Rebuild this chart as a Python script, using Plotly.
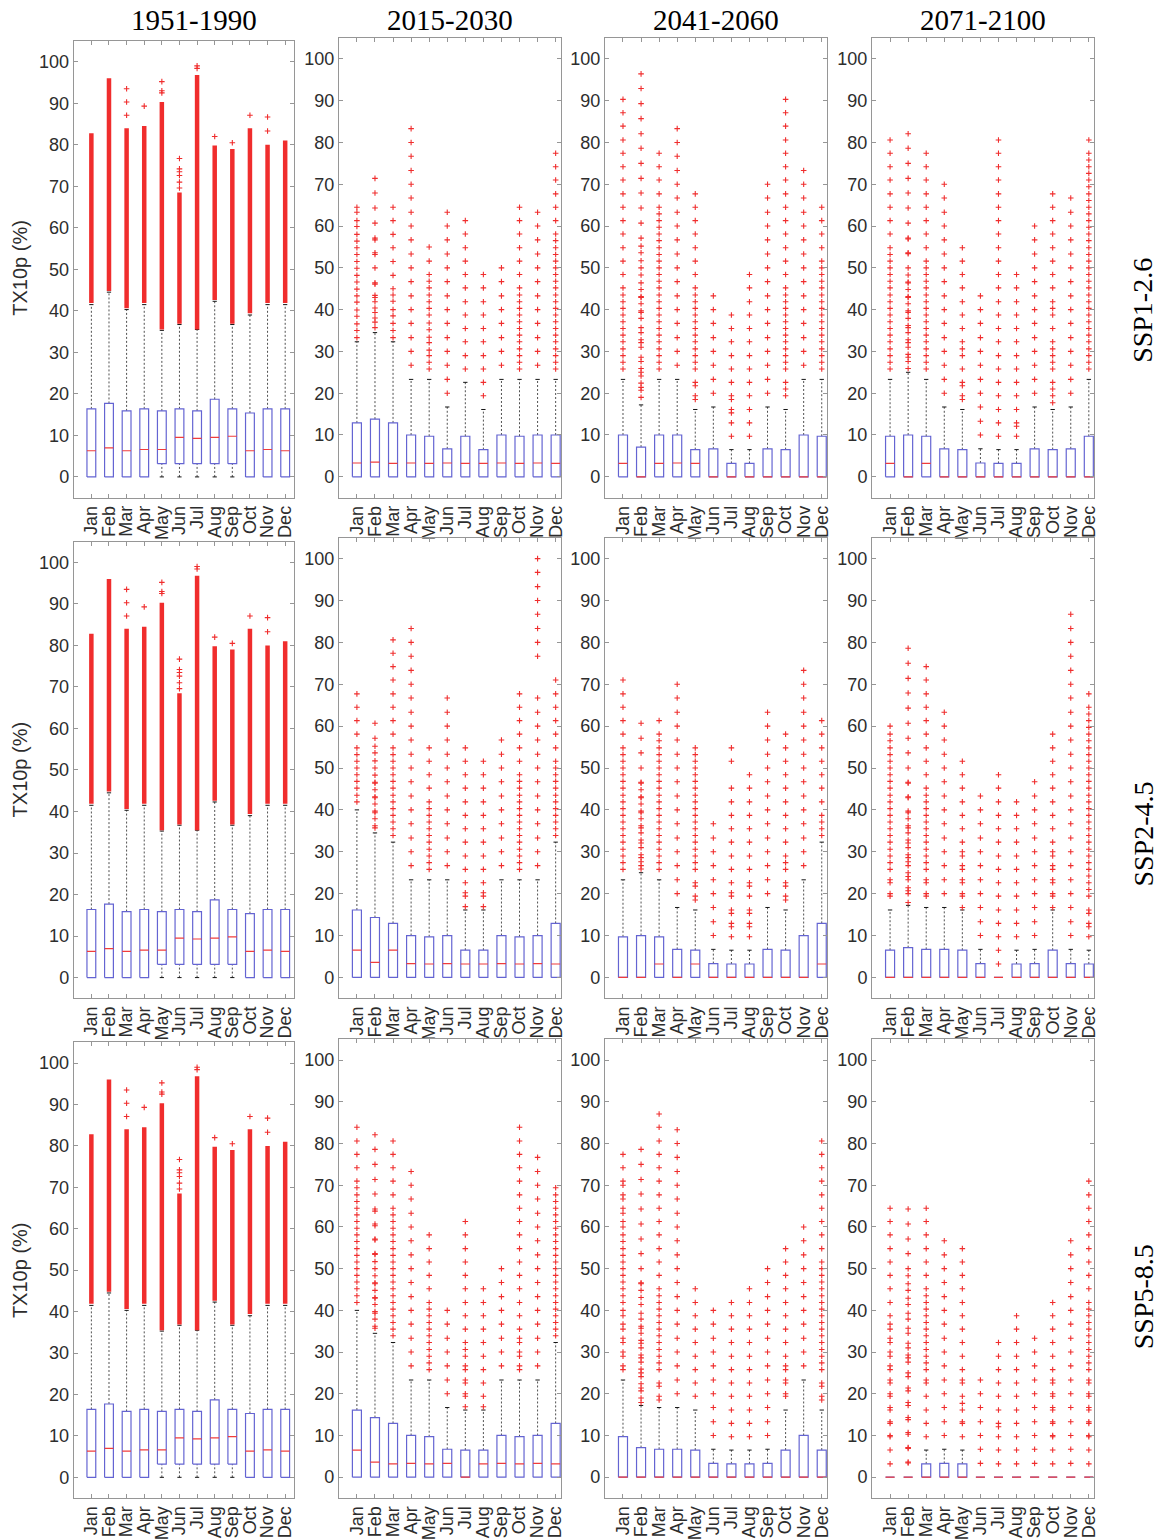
import plotly.graph_objects as go

W, H = 1168, 1540

MONTHS = ["Jan", "Feb", "Mar", "Apr", "May", "Jun", "Jul", "Aug", "Sep", "Oct", "Nov", "Dec"]
PERIODS = ["1951-1990", "2015-2030", "2041-2060", "2071-2100"]
SCENARIOS = ["SSP1-2.6", "SSP2-4.5", "SSP5-8.5"]
Y_TICKS = [0, 10, 20, 30, 40, 50, 60, 70, 80, 90, 100]
Y_LABEL = "TX10p (%)"

# ---------------- 1951-1990 (historical, repeated in every row) ----------------
hist_q1 = [0, 0, 0, 0, 3.2, 3.2, 3.2, 3.2, 3.2, 0, 0, 0]
hist_med = [6.3, 7.0, 6.3, 6.6, 6.6, 9.5, 9.3, 9.5, 9.8, 6.3, 6.6, 6.3]
hist_q3 = [16.4, 17.7, 15.9, 16.4, 15.9, 16.4, 15.9, 18.7, 16.4, 15.4, 16.4, 16.4]
hist_wlo = [0, 0, 0, 0, 0, 0, 0, 0, 0, 0, 0, 0]
hist_whi = [41.5, 44.5, 40.3, 41.5, 35.3, 36.7, 35.5, 42.3, 36.7, 39.0, 41.5, 41.5]
# densely packed outliers: lowest and highest value of each continuous run
hist_dense_lo = [41.9, 44.8, 40.6, 41.9, 35.5, 36.9, 35.5, 42.6, 36.9, 39.4, 41.9, 41.9]
hist_dense_hi = [82.8, 96.0, 84.0, 84.5, 90.3, 68.5, 96.8, 79.8, 79.0, 84.0, 80.0, 81.0]
hist_out = [[], [], [87.1, 90.3, 93.5], [89.3], [92.5, 93.0, 95.2],
            [69.6, 71.0, 72.6, 73.5, 74.2, 76.7], [98.4, 99.0], [82.0], [80.5],
            [87.1], [83.3, 86.7], []]

ZERO_Q1 = [0, 0, 0, 0, 0, 0, 0, 0, 0, 0, 0, 0]

# ---------------- SSP1-2.6 ----------------
s126_2015_med = [3.3, 3.5, 3.2, 3.3, 3.2, 3.3, 3.2, 3.2, 3.3, 3.2, 3.3, 3.2]
s126_2015_q3 = [12.9, 13.8, 12.9, 10.0, 9.7, 6.7, 9.7, 6.5, 10.0, 9.7, 10.0, 10.0]
s126_2015_whi = [32.3, 34.5, 32.3, 23.3, 23.3, 16.7, 22.6, 16.1, 23.3, 23.3, 23.3, 23.3]
s126_2015_out = [
    [33.3, 35.0, 36.6, 38.4, 39.9, 41.8, 43.3, 44.9, 46.6, 48.2, 49.9, 51.5, 53.2, 54.8, 56.4, 58.0, 59.9, 61.3, 63.3, 64.5],
    [35.7, 37.0, 38.0, 39.3, 40.4, 41.9, 42.9, 43.4, 46.1, 46.4, 50.0, 53.2, 53.6, 56.7, 57.1, 60.7, 64.3, 67.9, 71.4],
    [33.3, 35.0, 36.7, 38.5, 40.0, 42.0, 43.5, 45.0, 48.2, 51.5, 54.8, 58.0, 61.3, 64.5],
    [26.7, 30.0, 33.3, 36.7, 40.0, 43.3, 46.7, 50.0, 53.3, 56.7, 60.0, 63.3, 66.7, 70.0, 73.3, 76.7, 80.0, 83.3],
    [25.8, 27.4, 29.0, 30.3, 32.1, 33.4, 35.2, 36.8, 38.7, 40.3, 41.9, 43.5, 45.2, 46.8, 48.4, 51.6, 55.0],
    [20.0, 23.3, 26.7, 30.0, 33.3, 36.7, 40.0, 43.3, 46.7, 50.0, 53.3, 56.7, 60.0, 63.3],
    [25.8, 29.0, 32.3, 35.5, 38.7, 41.9, 45.2, 48.4, 51.6, 54.8, 58.1, 61.3],
    [19.4, 22.6, 25.8, 29.0, 32.3, 35.5, 38.7, 41.9, 45.2, 48.4],
    [26.7, 30.0, 33.3, 36.7, 40.0, 43.3, 46.7, 50.0],
    [25.8, 27.4, 29.0, 30.6, 32.3, 33.9, 35.5, 37.1, 38.7, 40.3, 41.9, 43.5, 45.2, 48.4, 51.6, 54.8, 58.1, 61.3, 64.5],
    [26.7, 30.0, 33.3, 36.7, 40.0, 43.3, 46.7, 50.0, 53.3, 56.7, 60.0, 63.3],
    [25.8, 27.4, 29.0, 30.6, 32.3, 33.9, 35.5, 37.1, 38.7, 40.3, 41.9, 43.5, 45.2, 46.8, 48.4, 50.0, 51.6, 53.2, 54.8, 56.5, 58.1, 61.3, 64.5, 67.7, 71.0, 74.2, 77.4],
]

s126_2041_med = [3.2, 0, 3.2, 3.3, 3.2, 0, 0, 0, 0, 0, 0, 0]
s126_2041_q3 = [10.0, 7.1, 10.0, 10.0, 6.5, 6.7, 3.2, 3.2, 6.7, 6.5, 10.0, 9.7]
s126_2041_whi = [23.3, 17.2, 23.3, 23.3, 16.1, 16.7, 6.5, 6.5, 16.7, 16.1, 23.3, 23.3]
s126_2041_out = [
    [25.8, 27.4, 29.0, 30.6, 32.3, 33.9, 35.5, 37.1, 38.7, 40.3, 41.9, 43.5, 45.2, 48.4, 51.6, 54.8, 58.1, 61.3, 64.5, 67.7, 71.0, 74.2, 77.4, 80.6, 83.9, 87.1, 90.3],
    [19.0, 20.7, 21.4, 22.4, 24.1, 25.0, 25.9, 27.6, 28.6, 31.0, 32.1, 32.8, 34.5, 35.7, 37.9, 39.3, 39.7, 41.4, 42.9, 43.1, 44.8, 46.4, 48.3, 50.0, 51.7, 53.6, 55.2, 57.1, 60.7, 64.3, 67.9, 71.4, 75.0, 78.6, 82.1, 85.7, 89.3, 92.9, 96.4],
    [25.8, 27.4, 29.0, 30.6, 32.3, 33.9, 35.5, 37.1, 38.7, 40.3, 41.9, 43.5, 45.2, 46.8, 48.4, 50.0, 51.6, 53.2, 54.8, 56.5, 58.1, 59.7, 61.3, 62.9, 64.5, 67.7, 71.0, 74.2, 77.4],
    [26.7, 30.0, 33.3, 36.7, 40.0, 43.3, 46.7, 50.0, 53.3, 56.7, 60.0, 63.3, 66.7, 70.0, 73.3, 76.7, 80.0, 83.3],
    [18.5, 19.4, 21.8, 22.6, 25.8, 27.4, 29.0, 30.6, 32.3, 33.9, 35.5, 37.1, 38.7, 40.3, 41.9, 43.5, 45.2, 48.4, 51.6, 54.8, 58.1, 61.3, 64.5, 67.7],
    [20.0, 23.3, 26.7, 30.0, 33.3, 36.7, 40.0, 43.3],
    [9.7, 12.9, 15.3, 16.1, 18.5, 19.4, 22.6, 25.8, 29.0, 32.3, 35.5, 38.7],
    [9.7, 12.9, 16.1, 19.4, 22.6, 25.8, 29.0, 32.3, 35.5, 38.7, 41.9, 45.2, 48.4],
    [20.0, 23.3, 26.7, 30.0, 33.3, 36.7, 40.0, 43.3, 46.7, 50.0, 53.3, 56.7, 60.0, 63.3, 66.7, 70.0],
    [19.4, 21.0, 22.6, 25.8, 27.4, 29.0, 30.6, 32.3, 33.9, 35.5, 37.1, 38.7, 40.3, 41.9, 43.5, 45.2, 48.4, 51.6, 54.8, 58.1, 61.3, 64.5, 67.7, 71.0, 74.2, 77.4, 80.6, 83.9, 87.1, 90.3],
    [26.7, 30.0, 33.3, 36.7, 40.0, 43.3, 46.7, 50.0, 53.3, 56.7, 60.0, 63.3, 66.7, 70.0, 73.3],
    [25.8, 27.4, 29.0, 30.6, 32.3, 33.9, 35.5, 37.1, 38.7, 40.3, 41.9, 43.5, 45.2, 46.8, 48.4, 50.0, 51.6, 54.8, 58.1, 61.3, 64.5],
]

s126_2071_med = [3.2, 0, 3.2, 0, 0, 0, 0, 0, 0, 0, 0, 0]
s126_2071_q3 = [9.7, 10.0, 9.7, 6.7, 6.5, 3.3, 3.2, 3.2, 6.7, 6.5, 6.7, 9.7]
s126_2071_whi = [23.3, 25.0, 23.3, 16.7, 16.1, 6.7, 6.5, 6.5, 16.7, 16.1, 16.7, 23.3]
s126_2071_out = [
    [25.8, 27.4, 29.0, 30.6, 32.3, 33.9, 35.5, 37.1, 38.7, 40.3, 41.9, 43.5, 45.2, 46.8, 48.4, 50.0, 51.6, 53.2, 54.8, 58.1, 61.3, 64.5, 67.7, 71.0, 74.2, 77.4, 80.6],
    [25.9, 27.6, 28.6, 29.3, 31.0, 32.1, 32.8, 34.5, 35.7, 36.2, 37.9, 39.3, 39.7, 41.4, 42.9, 43.1, 44.8, 46.4, 46.6, 48.3, 50.0, 53.4, 53.6, 56.9, 57.1, 60.7, 64.3, 67.9, 71.4, 75.0, 78.6, 82.1],
    [25.8, 27.4, 29.0, 30.6, 32.3, 33.9, 35.5, 37.1, 38.7, 40.3, 41.9, 43.5, 45.2, 46.8, 48.4, 50.0, 51.6, 54.8, 58.1, 61.3, 64.5, 67.7, 71.0, 74.2, 77.4],
    [20.0, 23.3, 26.7, 30.0, 33.3, 36.7, 40.0, 43.3, 46.7, 50.0, 53.3, 56.7, 60.0, 63.3, 66.7, 70.0],
    [18.5, 19.4, 21.8, 22.6, 25.8, 29.0, 30.6, 32.3, 35.5, 38.7, 41.9, 45.2, 48.4, 51.6, 54.8],
    [10.0, 13.3, 16.7, 20.0, 23.3, 26.7, 30.0, 33.3, 36.7, 40.0, 43.3],
    [9.7, 12.9, 16.1, 19.4, 22.6, 25.8, 29.0, 32.3, 35.5, 38.7, 41.9, 45.2, 48.4, 51.6, 54.8, 58.1, 61.3, 64.5, 67.7, 71.0, 74.2, 77.4, 80.6],
    [9.7, 12.1, 12.9, 16.1, 19.4, 22.6, 25.8, 29.0, 32.3, 35.5, 38.7, 41.9, 45.2, 48.4],
    [20.0, 23.3, 26.7, 30.0, 33.3, 36.7, 40.0, 43.3, 46.7, 50.0, 53.3, 56.7, 60.0],
    [17.7, 19.4, 21.0, 22.6, 25.8, 27.4, 29.0, 30.6, 32.3, 35.5, 38.7, 40.3, 41.9, 45.2, 48.4, 51.6, 54.8, 58.1, 61.3, 64.5, 67.7],
    [20.0, 23.3, 26.7, 30.0, 33.3, 36.7, 40.0, 43.3, 46.7, 50.0, 53.3, 56.7, 60.0, 63.3, 66.7],
    [25.8, 27.4, 29.0, 30.6, 32.3, 33.9, 35.5, 37.1, 38.7, 40.3, 41.9, 43.5, 45.2, 46.8, 48.4, 50.0, 51.6, 53.2, 54.8, 56.5, 58.1, 59.7, 61.3, 62.9, 64.5, 66.1, 67.7, 69.4, 71.0, 72.6, 74.2, 75.8, 77.4, 80.6],
]

# ---------------- SSP2-4.5 ----------------
s245_2015_med = [6.5, 3.6, 6.5, 3.3, 3.2, 3.3, 3.2, 3.2, 3.3, 3.2, 3.3, 3.2]
s245_2015_q3 = [16.1, 14.3, 12.9, 10.0, 9.7, 10.0, 6.5, 6.5, 10.0, 9.7, 10.0, 12.9]
s245_2015_whi = [40.0, 34.5, 32.3, 23.3, 23.3, 23.3, 16.1, 16.1, 23.3, 23.3, 23.3, 32.3]
s245_2015_out = [
    [41.9, 43.5, 45.2, 46.8, 48.4, 50.0, 51.6, 53.2, 54.8, 58.1, 61.3, 64.5, 67.7],
    [35.7, 36.2, 37.9, 39.3, 39.7, 41.4, 42.9, 43.1, 44.8, 46.4, 46.6, 48.3, 50.0, 51.7, 53.6, 55.2, 57.1, 60.7],
    [33.9, 35.5, 37.1, 38.7, 40.3, 41.9, 43.5, 45.2, 46.8, 48.4, 50.0, 51.6, 53.2, 54.8, 58.1, 61.3, 64.5, 67.7, 71.0, 74.2, 77.4, 80.6],
    [26.7, 30.0, 33.3, 36.7, 40.0, 43.3, 46.7, 50.0, 53.3, 56.7, 60.0, 63.3, 66.7, 70.0, 73.3, 76.7, 80.0, 83.3],
    [25.8, 27.4, 29.0, 30.6, 32.3, 33.9, 35.5, 37.1, 38.7, 40.3, 41.9, 45.2, 48.4, 51.6, 54.8],
    [26.7, 30.0, 33.3, 36.7, 40.0, 43.3, 46.7, 50.0, 53.3, 56.7, 60.0, 63.3, 66.7],
    [16.9, 19.4, 20.2, 22.6, 25.8, 29.0, 32.3, 35.5, 38.7, 41.9, 45.2, 48.4, 51.6, 54.8],
    [16.9, 19.4, 20.2, 22.6, 25.8, 29.0, 32.3, 35.5, 38.7, 41.9, 45.2, 48.4, 51.6],
    [26.7, 30.0, 33.3, 36.7, 40.0, 43.3, 46.7, 50.0, 53.3, 56.7],
    [25.8, 27.4, 29.0, 30.6, 32.3, 33.9, 35.5, 37.1, 38.7, 40.3, 41.9, 43.5, 45.2, 46.8, 48.4, 51.6, 54.8, 58.1, 61.3, 64.5, 67.7],
    [26.7, 30.0, 33.3, 36.7, 40.0, 43.3, 46.7, 50.0, 53.3, 56.7, 60.0, 63.3, 66.7, 76.7, 80.0, 83.3, 86.7, 90.0, 93.3, 96.7, 100.0],
    [33.9, 35.5, 37.1, 38.7, 40.3, 41.9, 43.5, 45.2, 46.8, 48.4, 50.0, 51.6, 54.8, 58.1, 61.3, 64.5, 67.7, 71.0],
]

s245_2041_med = [0, 0, 3.2, 0, 3.2, 0, 0, 0, 0, 0, 0, 3.2]
s245_2041_q3 = [9.7, 10.0, 9.7, 6.7, 6.5, 3.3, 3.2, 3.2, 6.7, 6.5, 10.0, 12.9]
s245_2041_whi = [23.3, 25.0, 23.3, 16.7, 16.1, 6.7, 6.5, 6.5, 16.7, 16.1, 23.3, 32.3]
s245_2041_out = [
    [25.8, 27.4, 29.0, 30.6, 32.3, 33.9, 35.5, 37.1, 38.7, 40.3, 41.9, 43.5, 45.2, 46.8, 48.4, 50.0, 51.6, 53.2, 54.8, 58.1, 61.3, 64.5, 67.7, 71.0],
    [25.9, 26.7, 27.6, 28.6, 29.3, 31.0, 32.1, 32.8, 34.5, 35.7, 36.2, 37.9, 39.3, 39.7, 41.4, 42.9, 43.1, 44.8, 46.4, 46.6, 50.0, 53.6, 57.1, 60.7],
    [25.8, 27.4, 29.0, 30.6, 32.3, 33.9, 35.5, 37.1, 38.7, 40.3, 41.9, 43.5, 45.2, 46.8, 48.4, 50.0, 51.6, 53.2, 54.8, 56.5, 58.1, 61.3],
    [20.0, 23.3, 26.7, 30.0, 33.3, 36.7, 40.0, 43.3, 46.7, 50.0, 53.3, 56.7, 60.0, 63.3, 66.7, 70.0],
    [18.5, 19.4, 21.8, 22.6, 25.8, 27.4, 29.0, 30.6, 32.3, 33.9, 35.5, 37.1, 38.7, 40.3, 41.9, 43.5, 45.2, 46.8, 48.4, 50.0, 51.6, 53.2, 54.8],
    [10.0, 13.3, 16.7, 20.0, 23.3, 26.7, 30.0, 33.3, 36.7],
    [9.7, 12.1, 12.9, 15.3, 16.1, 19.4, 20.2, 22.6, 25.8, 29.0, 32.3, 35.5, 38.7, 41.9, 45.2, 51.6, 54.8],
    [9.7, 12.1, 12.9, 15.3, 16.1, 19.4, 21.8, 22.6, 25.8, 29.0, 32.3, 35.5, 38.7, 41.9, 45.2, 48.4],
    [20.0, 23.3, 26.7, 30.0, 33.3, 36.7, 40.0, 43.3, 46.7, 50.0, 53.3, 56.7, 60.0, 63.3],
    [18.5, 19.4, 21.8, 22.6, 25.8, 27.4, 29.0, 32.3, 35.5, 38.7, 41.9, 45.2, 48.4, 51.6, 54.8, 58.1],
    [26.7, 30.0, 33.3, 36.7, 40.0, 43.3, 46.7, 50.0, 53.3, 56.7, 60.0, 63.3, 66.7, 70.0, 73.3],
    [33.9, 35.5, 37.1, 38.7, 41.9, 45.2, 48.4, 51.6, 54.8, 58.1, 61.3],
]

s245_2071_med = [0, 0, 0, 0, 0, 0, 0, 0, 0, 0, 0, 0]
s245_2071_q3 = [6.5, 7.1, 6.7, 6.7, 6.5, 3.3, 0, 3.2, 3.3, 6.5, 3.3, 3.2]
s245_2071_whi = [16.1, 17.2, 16.7, 16.7, 16.1, 6.7, 0, 6.5, 6.7, 16.1, 6.7, 6.5]
s245_2071_out = [
    [19.4, 20.0, 22.6, 23.3, 25.8, 27.4, 29.0, 30.6, 32.3, 33.9, 35.5, 37.1, 38.7, 40.3, 41.9, 43.5, 45.2, 46.8, 48.4, 50.0, 51.6, 53.2, 54.8, 56.5, 58.1, 60.0],
    [17.9, 20.0, 20.7, 21.4, 23.3, 24.1, 25.0, 26.7, 27.6, 28.6, 29.3, 31.0, 32.1, 32.8, 34.5, 35.7, 36.2, 37.9, 39.3, 39.7, 42.9, 43.1, 46.4, 46.6, 50.0, 53.6, 57.1, 60.7, 64.3, 67.9, 71.4, 75.0, 78.6],
    [19.4, 20.0, 22.6, 23.3, 25.8, 27.4, 29.0, 30.6, 32.3, 33.9, 35.5, 37.1, 38.7, 40.3, 41.9, 43.5, 45.2, 48.4, 51.6, 54.8, 58.1, 61.3, 64.5, 67.7, 71.0, 74.2],
    [20.0, 23.3, 26.7, 30.0, 33.3, 36.7, 40.0, 43.3, 46.7, 50.0, 53.3, 56.7, 60.0, 63.3],
    [16.7, 19.4, 20.0, 22.6, 23.3, 25.8, 26.7, 29.0, 30.0, 32.3, 35.5, 38.7, 41.9, 45.2, 48.4, 51.6],
    [10.0, 13.3, 16.7, 20.0, 23.3, 26.7, 30.0, 33.3, 36.7, 40.0, 43.3],
    [3.2, 6.5, 9.7, 12.9, 16.1, 19.4, 22.6, 25.8, 29.0, 32.3, 35.5, 38.7, 41.9, 45.2, 48.4],
    [9.7, 12.9, 16.1, 19.4, 22.6, 25.8, 29.0, 32.3, 35.5, 38.7, 41.9],
    [10.0, 13.3, 16.7, 20.0, 23.3, 26.7, 30.0, 33.3, 36.7, 40.0, 43.3, 46.7],
    [16.7, 19.4, 20.0, 22.6, 23.3, 25.8, 26.7, 29.0, 30.0, 32.3, 35.5, 38.7, 41.9, 45.2, 48.4, 51.6, 54.8, 58.1],
    [10.0, 13.3, 16.7, 20.0, 23.3, 26.7, 30.0, 33.3, 36.7, 40.0, 43.3, 46.7, 50.0, 53.3, 56.7, 60.0, 63.3, 66.7, 70.0, 73.3, 76.7, 80.0, 83.3, 86.7],
    [9.7, 12.1, 12.9, 15.3, 16.1, 19.4, 21.0, 22.6, 24.2, 25.8, 27.4, 29.0, 30.6, 32.3, 33.9, 35.5, 37.1, 38.7, 40.3, 41.9, 43.5, 45.2, 46.8, 48.4, 50.0, 51.6, 53.2, 54.8, 56.5, 58.1, 59.7, 61.3, 62.9, 64.5, 67.7],
]

# ---------------- SSP5-8.5 ----------------
s585_2015_med = [6.5, 3.6, 3.2, 3.3, 3.2, 3.3, 0, 3.2, 3.3, 3.2, 3.3, 3.2]
s585_2015_q3 = [16.1, 14.3, 12.9, 10.0, 9.7, 6.7, 6.5, 6.5, 10.0, 9.7, 10.0, 12.9]
s585_2015_whi = [40.0, 34.5, 32.3, 23.3, 23.3, 16.7, 16.1, 16.1, 23.3, 23.3, 23.3, 32.3]
s585_2015_out = [
    [41.9, 43.5, 45.2, 46.8, 48.4, 50.0, 51.6, 53.2, 54.8, 56.5, 58.1, 59.7, 61.3, 62.9, 64.5, 66.1, 67.7, 69.4, 71.0, 74.2, 77.4, 80.6, 83.9],
    [35.7, 36.2, 37.9, 39.3, 39.7, 41.4, 42.9, 43.1, 44.8, 46.4, 46.6, 48.3, 50.0, 51.7, 53.4, 53.6, 56.9, 57.1, 60.3, 60.7, 63.8, 64.3, 67.9, 71.4, 75.0, 78.6, 82.1],
    [33.9, 35.5, 37.1, 38.7, 40.3, 41.9, 43.5, 45.2, 46.8, 48.4, 50.0, 51.6, 53.2, 54.8, 56.5, 58.1, 59.7, 61.3, 62.9, 64.5, 67.7, 71.0, 74.2, 77.4, 80.6],
    [26.7, 30.0, 33.3, 36.7, 40.0, 43.3, 46.7, 50.0, 53.3, 56.7, 60.0, 63.3, 66.7, 70.0, 73.3],
    [25.8, 27.4, 29.0, 30.6, 32.3, 33.9, 35.5, 37.1, 38.7, 40.3, 41.9, 45.2, 48.4, 51.6, 54.8, 58.1],
    [20.0, 23.3, 26.7, 30.0, 33.3, 36.7, 40.0],
    [16.9, 19.4, 20.0, 22.6, 23.3, 25.8, 26.7, 29.0, 30.6, 32.3, 35.5, 38.7, 41.9, 45.2, 48.4, 51.6, 54.8, 58.1, 61.3],
    [16.9, 19.4, 22.6, 25.8, 29.0, 32.3, 35.5, 38.7, 41.9, 45.2],
    [26.7, 30.0, 33.3, 36.7, 40.0, 43.3, 46.7, 50.0],
    [25.8, 26.7, 29.0, 30.0, 32.3, 33.3, 35.5, 38.7, 41.9, 45.2, 48.4, 51.6, 54.8, 58.1, 61.3, 64.5, 67.7, 71.0, 74.2, 77.4, 80.6, 83.9],
    [26.7, 30.0, 33.3, 36.7, 40.0, 43.3, 46.7, 50.0, 53.3, 56.7, 60.0, 63.3, 66.7, 70.0, 73.3, 76.7],
    [33.9, 35.5, 37.1, 38.7, 40.3, 41.9, 43.5, 45.2, 46.8, 48.4, 50.0, 51.6, 53.2, 54.8, 56.5, 58.1, 59.7, 61.3, 62.9, 64.5, 66.1, 67.7, 69.4],
]

s585_2041_med = [0, 0, 0, 0, 0, 0, 0, 0, 0, 0, 0, 0]
s585_2041_q3 = [9.7, 7.1, 6.7, 6.7, 6.5, 3.3, 3.2, 3.2, 3.3, 6.5, 10.0, 6.5]
s585_2041_whi = [23.3, 17.2, 16.7, 16.7, 16.1, 6.7, 6.5, 6.5, 6.7, 16.1, 23.3, 16.1]
s585_2041_out = [
    [25.8, 26.7, 29.0, 30.0, 32.3, 33.3, 35.5, 36.7, 38.7, 40.0, 41.9, 43.5, 45.2, 46.8, 48.4, 50.0, 51.6, 53.2, 54.8, 56.5, 58.1, 60.0, 61.3, 63.3, 64.5, 66.7, 67.7, 70.0, 71.0, 74.2, 77.4],
    [17.9, 19.0, 20.7, 21.4, 22.4, 24.1, 25.0, 25.9, 27.6, 28.6, 29.3, 31.0, 32.1, 32.8, 34.5, 35.7, 36.2, 37.9, 39.3, 41.4, 43.1, 44.8, 46.4, 46.6, 50.0, 53.6, 57.1, 60.7, 64.3, 67.9, 71.4, 75.0, 78.6],
    [18.5, 19.4, 21.8, 22.6, 25.8, 27.4, 29.0, 30.6, 32.3, 33.9, 35.5, 37.1, 38.7, 40.3, 41.9, 43.5, 45.2, 48.4, 51.6, 54.8, 58.1, 61.3, 64.5, 67.7, 71.0, 74.2, 77.4, 80.6, 83.9, 87.1],
    [20.0, 23.3, 26.7, 30.0, 33.3, 36.7, 40.0, 43.3, 46.7, 50.0, 53.3, 56.7, 60.0, 63.3, 66.7, 70.0, 73.3, 76.7, 80.0, 83.3],
    [19.4, 22.6, 25.8, 29.0, 32.3, 35.5, 38.7, 41.9, 45.2],
    [10.0, 13.3, 16.7, 20.0, 23.3, 26.7, 30.0, 33.3, 36.7, 40.0],
    [9.7, 12.9, 16.1, 19.4, 22.6, 25.8, 29.0, 32.3, 35.5, 38.7, 41.9],
    [9.7, 12.9, 16.1, 19.4, 22.6, 25.8, 29.0, 32.3, 35.5, 38.7, 41.9, 45.2],
    [10.0, 13.3, 16.7, 20.0, 23.3, 26.7, 30.0, 33.3, 36.7, 40.0, 43.3, 46.7, 50.0],
    [19.4, 20.0, 22.6, 23.3, 25.8, 26.7, 29.0, 32.3, 35.5, 38.7, 41.9, 45.2, 48.4, 51.6, 54.8],
    [26.7, 30.0, 33.3, 36.7, 40.0, 43.3, 46.7, 50.0, 53.3, 56.7, 60.0],
    [18.5, 19.4, 21.8, 22.6, 25.8, 27.4, 29.0, 30.6, 32.3, 33.9, 35.5, 37.1, 38.7, 40.3, 41.9, 43.5, 45.2, 46.8, 48.4, 50.0, 51.6, 54.8, 58.1, 61.3, 64.5, 67.7, 71.0, 74.2, 77.4, 80.6],
]

s585_2071_med = [0, 0, 0, 0, 0, 0, 0, 0, 0, 0, 0, 0]
s585_2071_q3 = [0, 0, 3.2, 3.3, 3.2, 0, 0, 0, 0, 0, 0, 0]
s585_2071_whi = [0, 0, 6.5, 6.7, 6.5, 0, 0, 0, 0, 0, 0, 0]
s585_2071_out = [
    [3.2, 6.5, 9.7, 10.0, 12.9, 13.3, 16.1, 16.7, 19.4, 20.0, 22.6, 23.3, 25.8, 26.7, 29.0, 30.0, 32.3, 33.3, 35.5, 36.7, 38.7, 41.9, 45.2, 48.4, 51.6, 54.8, 58.1, 61.3, 64.5],
    [3.4, 3.6, 6.9, 7.1, 10.3, 10.7, 13.8, 14.3, 17.2, 17.9, 20.7, 21.4, 24.1, 25.0, 27.6, 28.6, 29.3, 31.0, 32.1, 34.5, 35.7, 37.9, 39.3, 41.4, 42.9, 44.8, 46.4, 48.3, 50.0, 53.6, 57.1, 60.7, 64.3],
    [9.7, 12.9, 16.1, 19.4, 22.6, 23.3, 25.8, 27.4, 29.0, 30.6, 32.3, 33.9, 35.5, 37.1, 38.7, 40.3, 41.9, 43.5, 45.2, 48.4, 51.6, 54.8, 58.1, 61.3, 64.5],
    [10.0, 13.3, 16.7, 20.0, 23.3, 26.7, 30.0, 33.3, 36.7, 40.0, 43.3, 46.7, 50.0, 53.3, 56.7],
    [9.7, 12.9, 13.3, 16.1, 17.7, 19.4, 22.6, 23.3, 25.8, 29.0, 32.3, 35.5, 38.7, 41.9, 45.2, 48.4, 51.6, 54.8],
    [3.3, 6.7, 10.0, 13.3, 16.7, 20.0, 23.3],
    [3.2, 6.5, 9.7, 12.1, 12.9, 16.1, 19.4, 22.6, 25.8, 29.0, 32.3],
    [3.2, 6.5, 9.7, 12.9, 16.1, 19.4, 22.6, 25.8, 29.0, 32.3, 35.5, 38.7],
    [3.3, 6.7, 10.0, 13.3, 16.7, 20.0, 23.3, 26.7, 30.0, 33.3],
    [3.2, 6.5, 9.7, 10.0, 12.9, 13.3, 16.1, 16.7, 19.4, 20.0, 22.6, 23.3, 25.8, 29.0, 32.3, 35.5, 38.7, 41.9],
    [3.3, 6.7, 10.0, 13.3, 16.7, 20.0, 23.3, 26.7, 30.0, 33.3, 36.7, 40.0, 43.3, 46.7, 50.0, 53.3, 56.7],
    [3.2, 6.5, 9.7, 10.0, 12.9, 13.3, 16.1, 16.7, 19.4, 20.0, 22.6, 23.3, 25.8, 27.4, 29.0, 30.6, 32.3, 33.9, 35.5, 37.1, 38.7, 40.3, 41.9, 45.2, 48.4, 51.6, 54.8, 58.1, 61.3, 64.5, 67.7, 71.0],
]

# ---------------- panel table: rows = scenarios, columns = periods ----------------
HIST = dict(q1=hist_q1, med=hist_med, q3=hist_q3, wlo=hist_wlo, whi=hist_whi, out=hist_out,
            band_lo=hist_dense_lo, band_hi=hist_dense_hi)
PANELS = [
    [HIST,
     dict(q1=ZERO_Q1, med=s126_2015_med, q3=s126_2015_q3, wlo=ZERO_Q1, whi=s126_2015_whi, out=s126_2015_out),
     dict(q1=ZERO_Q1, med=s126_2041_med, q3=s126_2041_q3, wlo=ZERO_Q1, whi=s126_2041_whi, out=s126_2041_out),
     dict(q1=ZERO_Q1, med=s126_2071_med, q3=s126_2071_q3, wlo=ZERO_Q1, whi=s126_2071_whi, out=s126_2071_out)],
    [HIST,
     dict(q1=ZERO_Q1, med=s245_2015_med, q3=s245_2015_q3, wlo=ZERO_Q1, whi=s245_2015_whi, out=s245_2015_out),
     dict(q1=ZERO_Q1, med=s245_2041_med, q3=s245_2041_q3, wlo=ZERO_Q1, whi=s245_2041_whi, out=s245_2041_out),
     dict(q1=ZERO_Q1, med=s245_2071_med, q3=s245_2071_q3, wlo=ZERO_Q1, whi=s245_2071_whi, out=s245_2071_out)],
    [HIST,
     dict(q1=ZERO_Q1, med=s585_2015_med, q3=s585_2015_q3, wlo=ZERO_Q1, whi=s585_2015_whi, out=s585_2015_out),
     dict(q1=ZERO_Q1, med=s585_2041_med, q3=s585_2041_q3, wlo=ZERO_Q1, whi=s585_2041_whi, out=s585_2041_out),
     dict(q1=ZERO_Q1, med=s585_2071_med, q3=s585_2071_q3, wlo=ZERO_Q1, whi=s585_2071_whi, out=s585_2071_out)],
]

# ---------------- styling / geometry ----------------
BOX_HALF = 0.25
CAP_HALF = 0.12
BOX_COLOR = "rgb(100,100,210)"
MED_COLOR = "rgb(240,60,60)"
OUT_COLOR = "rgb(240,45,45)"
WHISK_COLOR = "rgb(80,80,80)"
FRAME_COLOR = "rgb(150,150,150)"
TICK_FONT = dict(family="Liberation Sans, Arial, sans-serif", size=18, color="rgb(45,45,45)")

COL_X = [(74, 295), (340, 563), (607, 830), (875, 1098)]
ROW_Y_FIRST = [(41, 498), (542, 999), (1043, 1499)]
ROW_Y_OTHER = [(38, 498), (538, 999), (1040, 1499)]
X_RANGE_FIRST = [0, 12.5]
X_RANGE_OTHER = [0, 12.3]


def panel_traces(k, p):
    xa, ya = f"x{k}", f"y{k}"
    wx, wy, cx, cy, bx, by, mx, my, ox, oy, dx, dy = ([] for _ in range(12))
    for i in range(12):
        pos = i + 1
        q1, md, q3 = p["q1"][i], p["med"][i], p["q3"][i]
        lo, hi = p["wlo"][i], p["whi"][i]
        if hi > q3:
            wx += [pos, pos, None]
            wy += [q3, hi, None]
            cx += [pos - CAP_HALF, pos + CAP_HALF, None]
            cy += [hi, hi, None]
        if q1 > lo:
            wx += [pos, pos, None]
            wy += [lo, q1, None]
            cx += [pos - CAP_HALF, pos + CAP_HALF, None]
            cy += [lo, lo, None]
        bx += [pos - BOX_HALF, pos + BOX_HALF, pos + BOX_HALF, pos - BOX_HALF, pos - BOX_HALF, None]
        by += [q1, q1, q3, q3, q1, None]
        mx += [pos - BOX_HALF, pos + BOX_HALF, None]
        my += [md, md, None]
        for v in p["out"][i]:
            ox.append(pos)
            oy.append(v)
        if "band_lo" in p:
            dx += [pos, pos, None]
            dy += [p["band_lo"][i], p["band_hi"][i], None]
    common = dict(xaxis=xa, yaxis=ya, showlegend=False, hoverinfo="skip")
    traces = [
        go.Scatter(x=wx, y=wy, mode="lines", line=dict(color=WHISK_COLOR, width=1, dash="2px,2px"), **common),
        go.Scatter(x=cx, y=cy, mode="lines", line=dict(color="rgb(20,20,20)", width=1), **common),
        go.Scatter(x=bx, y=by, mode="lines", line=dict(color=BOX_COLOR, width=1.2), **common),
        go.Scatter(x=mx, y=my, mode="lines", line=dict(color=MED_COLOR, width=1.2), **common),
    ]
    if dx:
        traces.append(go.Scatter(x=dx, y=dy, mode="lines", line=dict(color=OUT_COLOR, width=4.5), **common))
    traces.append(go.Scatter(x=ox, y=oy, mode="markers",
                             marker=dict(symbol="cross-thin", size=4, line=dict(color=OUT_COLOR, width=1.1)),
                             **common))
    return traces


fig = go.Figure()
layout = dict(width=W, height=H, margin=dict(l=0, r=0, t=0, b=0),
              paper_bgcolor="white", plot_bgcolor="white", showlegend=False)

k = 0
for r in range(3):
    for c in range(4):
        k += 1
        for tr in panel_traces(k, PANELS[r][c]):
            fig.add_trace(tr)
        x0, x1 = COL_X[c]
        y0, y1 = (ROW_Y_FIRST if c == 0 else ROW_Y_OTHER)[r]
        suffix = "" if k == 1 else str(k)
        axis_base = dict(showline=True, linecolor=FRAME_COLOR, linewidth=1, mirror="ticks",
                         ticks="inside", ticklen=4, tickcolor=FRAME_COLOR, tickwidth=1,
                         showgrid=False, zeroline=False, tickfont=TICK_FONT, fixedrange=True)
        layout["xaxis" + suffix] = dict(axis_base, domain=[x0 / W, x1 / W], anchor=f"y{k}",
                                        range=X_RANGE_FIRST if c == 0 else X_RANGE_OTHER,
                                        tickmode="array", tickvals=list(range(1, 13)),
                                        ticktext=MONTHS, tickangle=-90)
        layout["yaxis" + suffix] = dict(axis_base, domain=[1 - y1 / H, 1 - y0 / H], anchor=f"x{k}",
                                        range=[-5, 105], tickmode="array", tickvals=Y_TICKS,
                                        ticktext=[str(v) for v in Y_TICKS])

annotations = []
TITLE_X = [195, 452, 718, 986]
for c, label in enumerate(PERIODS):
    annotations.append(dict(text=label, x=TITLE_X[c] / W, y=1 - 20 / H, xref="paper", yref="paper",
                            showarrow=False, xanchor="center", yanchor="middle",
                            font=dict(family="Liberation Serif, Times New Roman, serif", size=29, color="black")))
ROW_LABEL_Y = [311, 835, 1298]
YTITLE_Y = [268, 770, 1271]
for r, label in enumerate(SCENARIOS):
    annotations.append(dict(text=label, x=1147 / W, y=1 - ROW_LABEL_Y[r] / H, xref="paper", yref="paper",
                            showarrow=False, textangle=-90, xanchor="center", yanchor="middle",
                            font=dict(family="Liberation Serif, Times New Roman, serif", size=28, color="black")))
    annotations.append(dict(text=Y_LABEL, x=20 / W, y=1 - YTITLE_Y[r] / H, xref="paper", yref="paper",
                            showarrow=False, textangle=-90, xanchor="center", yanchor="middle",
                            font=dict(family="Liberation Sans, Arial, sans-serif", size=20, color="rgb(45,45,45)")))
layout["annotations"] = annotations

fig.update_layout(**layout)
fig.write_html("out.html")
